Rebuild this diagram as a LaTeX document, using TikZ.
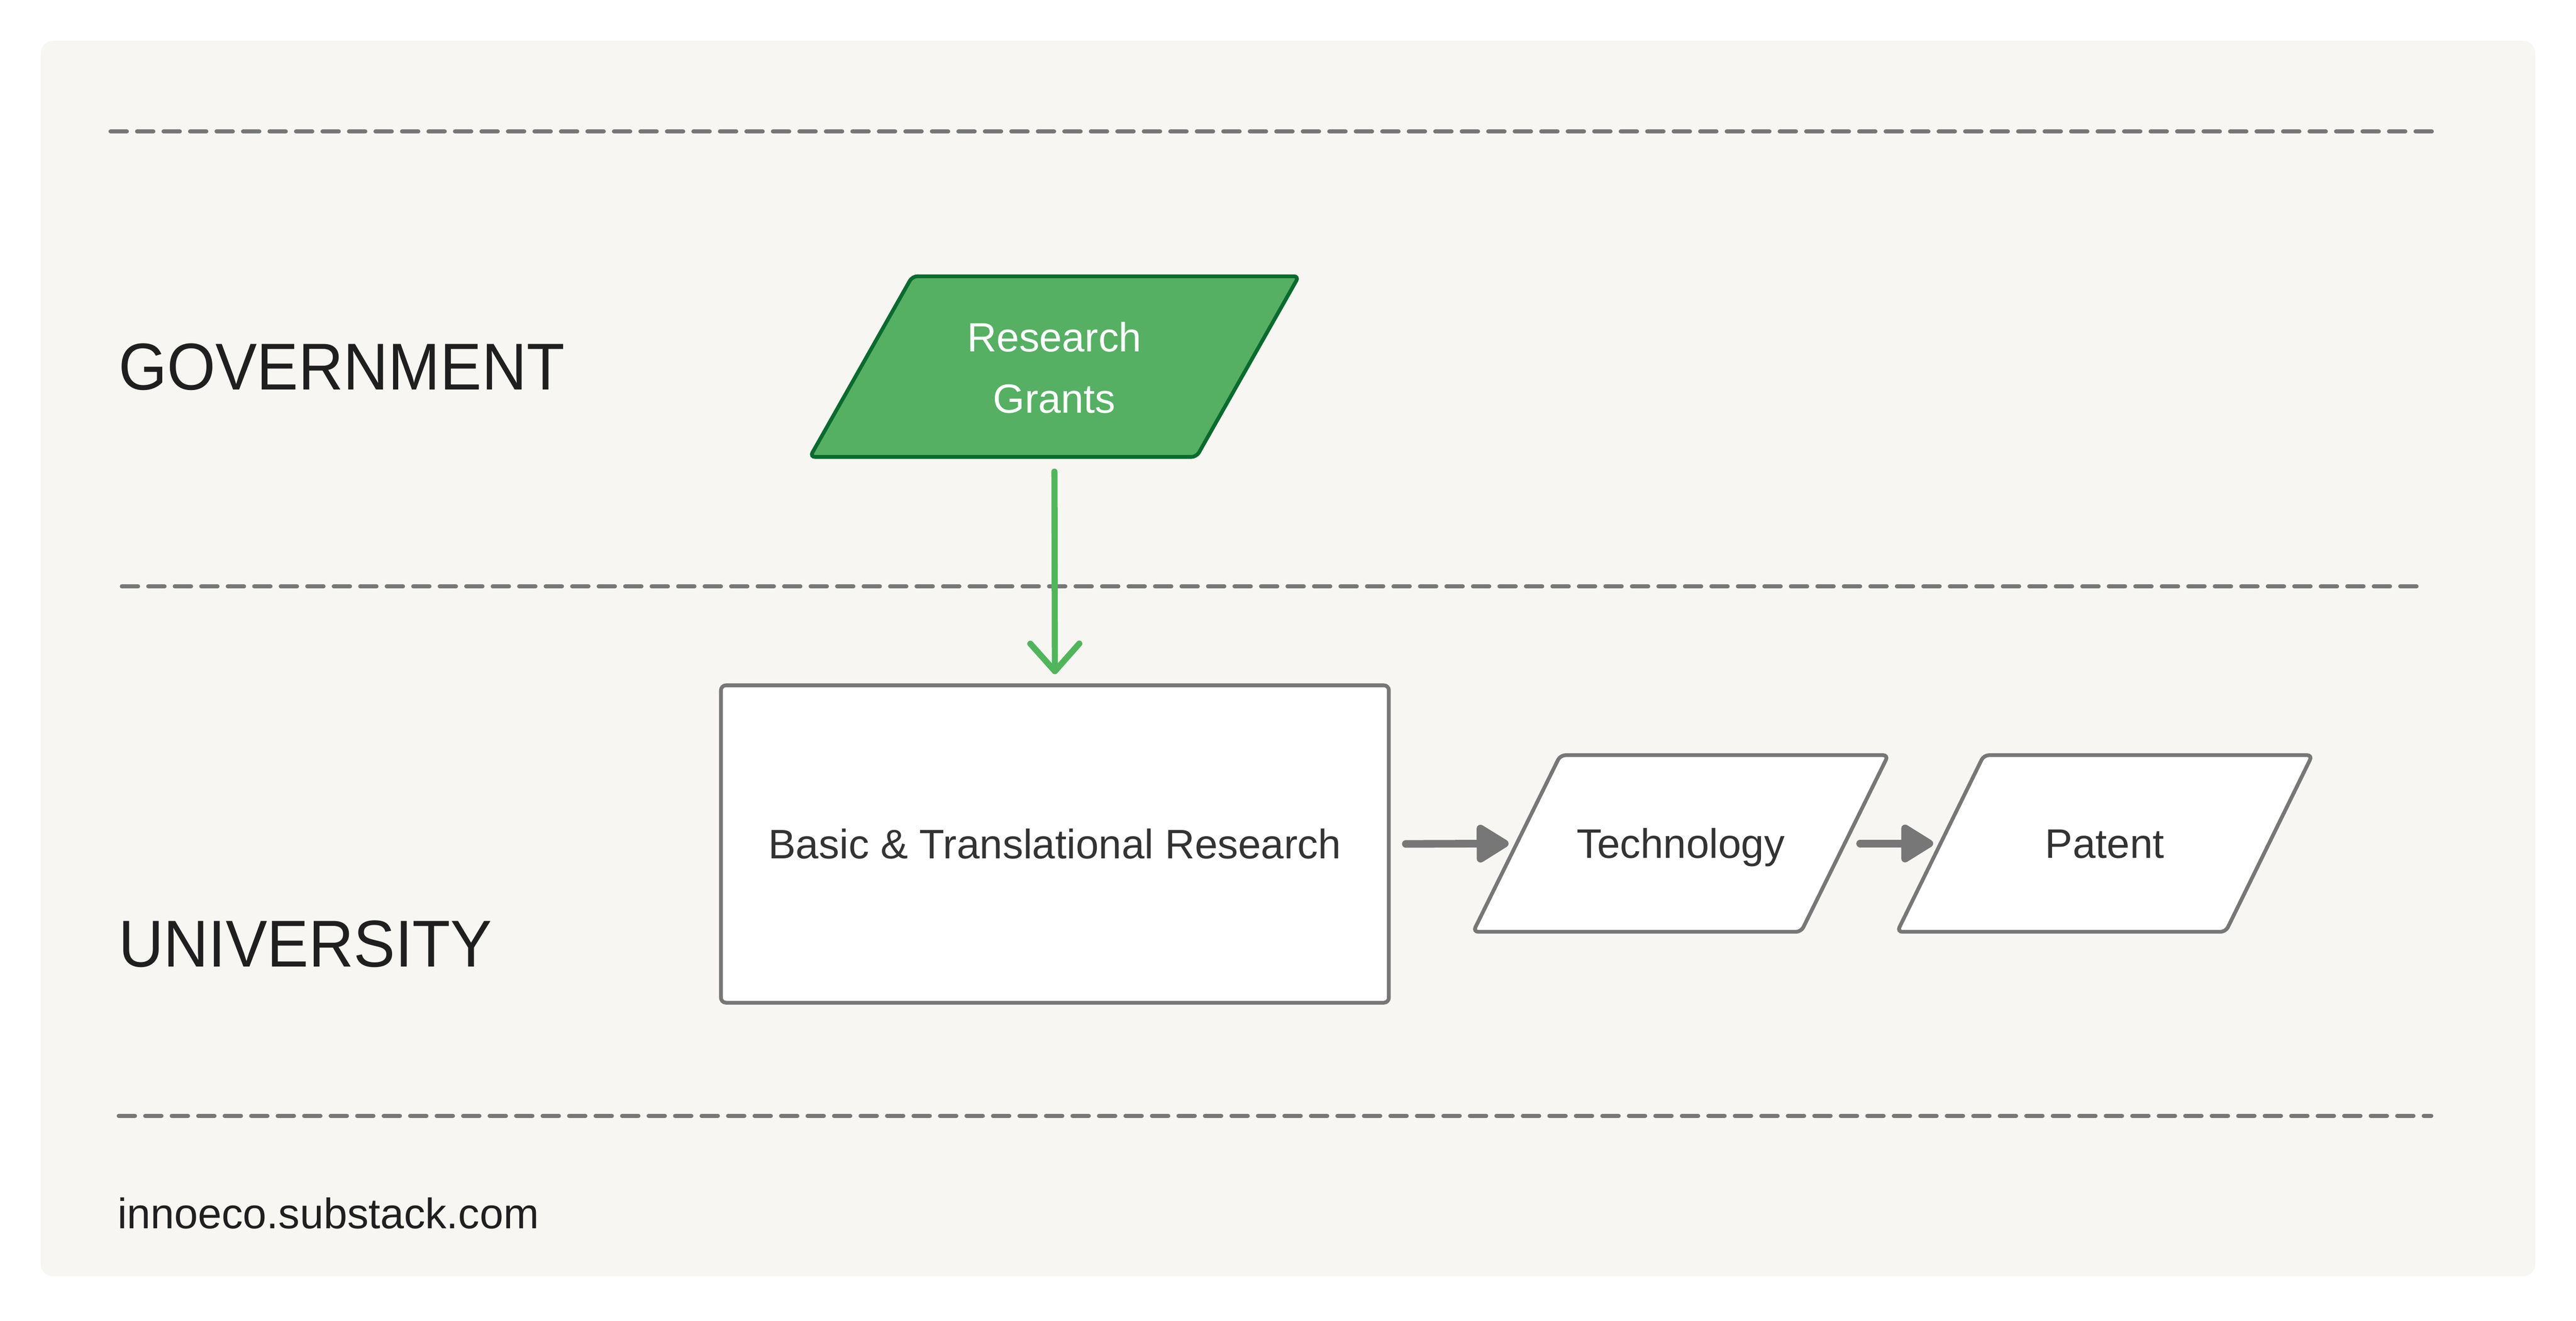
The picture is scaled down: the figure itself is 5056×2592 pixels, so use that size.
\documentclass[tikz,border=0pt]{standalone}
\usepackage{fontspec}
\setmainfont{Liberation Sans}
\newfontfamily\labelfont[FakeStretch=0.94]{Liberation Sans}
\usetikzlibrary{arrows.meta,calc,backgrounds}
\definecolor{bgc}{HTML}{F7F6F2}
\definecolor{linegray}{HTML}{777777}
\definecolor{gfill}{HTML}{55B063}
\definecolor{gdark}{HTML}{0A6B2E}
\definecolor{garrow}{HTML}{50B65A}
\definecolor{txt}{HTML}{333333}
\definecolor{lbl}{HTML}{1F1F1F}
\begin{document}
\begin{tikzpicture}[x=0.25pt,y=-0.25pt,
  divider/.style={draw=linegray,line width=2pt,line cap=round,dash pattern=on 8pt off 5pt},
  lanelabel/.style={anchor=base west,inner sep=0pt,text=lbl,font=\labelfont\fontsize{32.5}{39}\selectfont},
  footer/.style={anchor=base west,inner sep=0pt,text=lbl,font=\fontsize{20.9}{25}\selectfont},
  boxtext/.style={text=txt,font=\fontsize{20.2}{30}\selectfont,inner sep=0pt,text height=14.4pt,text depth=0pt},
  procbox/.style={boxtext,draw=linegray,fill=white,line width=1.85pt,rounded corners=2.5pt,
    minimum width=327.75pt,minimum height=155.75pt},
  paranode/.style={boxtext,draw=none,minimum height=86.25pt},
  grantnode/.style={text=white,font=\fontsize{20}{30}\selectfont,align=center,inner sep=0pt,
    draw=none,minimum width=189.25pt,minimum height=88.25pt},
  whitepara/.style={draw=linegray,fill=white,line width=1.85pt,rounded corners=2.5pt},
  greenpara/.style={draw=gdark,fill=gfill,line width=1.85pt,rounded corners=2.5pt},
  grayarrow/.style={draw=linegray,line width=3.75pt,line cap=round,
    -{Triangle[length=17.5pt,width=20.5pt,round]}},
  greenarrow/.style={draw=garrow,line width=3pt,line cap=round,
    -{Straight Barb[length=13.5pt,width=24pt,round]}}
]
\useasboundingbox (0,0) rectangle (5056,2592);
\begin{scope}[on background layer]
  \fill[bgc,rounded corners=6pt] (80,80) rectangle (4976,2505);
\end{scope}

% dividers
\draw[divider] (217,258) -- (4791,258);
\draw[divider] (239,1151) -- (4752,1151);
\draw[divider] (233,2190) -- (4772,2190);

% lane labels
\node[lanelabel] (gov) at (232,765) {GOVERNMENT};
\node[lanelabel] (uni) at (232,1897) {UNIVERSITY};
\node[footer] (site) at (230,2411) {innoeco.substack.com};

% nodes
\node[grantnode] (grants) at (2069.5,722) {Research\\Grants};
\node[procbox] (basic) at (2070.5,1656.5) {Basic \& Translational Research};
\node[paranode,minimum width=160.5pt] (tech) at (3298.75,1655.5) {Technology};
\node[paranode,minimum width=160.75pt] (patent) at (4131,1655.5) {Patent};

\begin{scope}[on background layer]
  \draw[greenpara] ([xshift=25.125pt,yshift=0.625pt]grants.north west) -- ([xshift=25.125pt,yshift=0.625pt]grants.north east)
    -- ([xshift=-25.125pt,yshift=0.625pt]grants.south east) -- ([xshift=-25.125pt,yshift=0.625pt]grants.south west) -- cycle;
  \draw[whitepara] ([xshift=21.375pt]tech.north west) -- ([xshift=21.375pt]tech.north east)
    -- ([xshift=-21.375pt]tech.south east) -- ([xshift=-21.375pt]tech.south west) -- cycle;
  \draw[whitepara] ([xshift=21.25pt]patent.north west) -- ([xshift=21.25pt]patent.north east)
    -- ([xshift=-21.25pt]patent.south east) -- ([xshift=-21.25pt]patent.south west) -- cycle;
\end{scope}

% connectors
\draw[greenarrow,shorten <=6.6pt,shorten >=4.5pt] (grants.south) -- (basic.north);
\draw[grayarrow,shorten <=7.4pt,shorten >=4pt] (basic.east) -- (tech.west);
\draw[grayarrow,shorten <=7.6pt,shorten >=3.6pt] (tech.east) -- (patent.west);
\end{tikzpicture}
\end{document}
